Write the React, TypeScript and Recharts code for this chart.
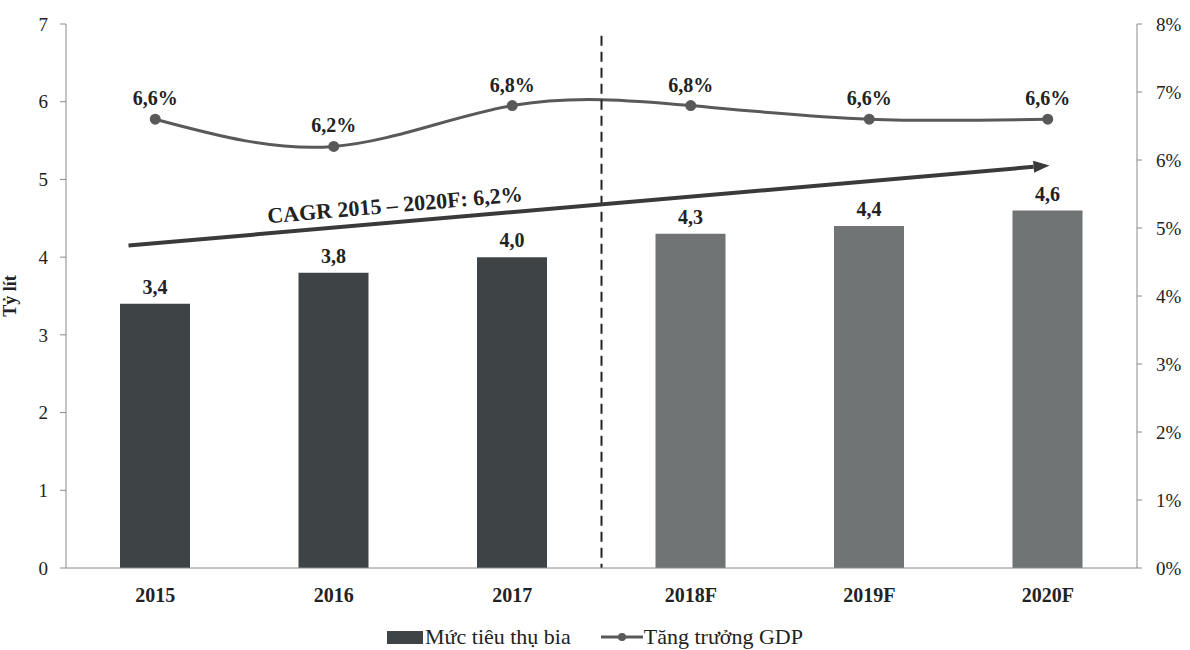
import { Bar, Cell, ComposedChart, LabelList, Line, ReferenceLine, XAxis, YAxis } from 'recharts';

const years = ['2015', '2016', '2017', '2018F', '2019F', '2020F'];
const beer = [3.4, 3.8, 4.0, 4.3, 4.4, 4.6];
const gdp = [6.6, 6.2, 6.8, 6.8, 6.6, 6.6];
const leftTicks = [0, 1, 2, 3, 4, 5, 6, 7];
const rightTicks = [0, 1, 2, 3, 4, 5, 6, 7, 8];

// CAGR arrow ends, in (band position, litres) units
const cagrStart = { x: 0.35, y: 4.15 };
const cagrEnd = { x: 5.51, y: 5.18 };
const cagrText = 'CAGR 2015 – 2020F: 6,2%';

const FONT = '"Liberation Serif", "Times New Roman", serif';
const ACTUAL_COLOR = '#3e4446';
const FORECAST_COLOR = '#707474';
const LINE_COLOR = '#595959';
const AXIS_COLOR = '#8a8a8a';

// pos = centre of each band on a 0..6 scale, used by the annotation axis
const data = years.map((y, i) => ({ year: y, beer: beer[i], gdp: gdp[i], pos: i + 0.5 }));

const comma = (v: number) => v.toFixed(1).replace('.', ',');

function CagrArrow(props: any) {
  const { x1, y1, x2, y2 } = props;
  const ang = Math.atan2(y2 - y1, x2 - x1);
  const deg = (ang * 180) / Math.PI;
  const head = 16;
  const hx = x2 - head * Math.cos(ang);
  const hy = y2 - head * Math.sin(ang);
  const px = Math.sin(ang) * 6;
  const py = -Math.cos(ang) * 6;
  const tx = x1 + (x2 - x1) * 0.29;
  const ty = y1 + (y2 - y1) * 0.29 - 10;
  return (
    <g>
      <line x1={x1} y1={y1} x2={hx} y2={hy} stroke="#3a3a3a" strokeWidth={4} />
      <polygon points={`${x2},${y2} ${hx + px},${hy + py} ${hx - px},${hy - py}`} fill="#3a3a3a" />
      <text
        x={tx}
        y={ty}
        textAnchor="middle"
        transform={`rotate(${deg} ${tx} ${ty})`}
        style={{ fontFamily: FONT, fontWeight: 700, fontSize: 22, fill: '#222' }}
      >
        {cagrText}
      </text>
    </g>
  );
}

export default function App() {
  return (
    <div style={{ position: 'absolute', left: 0, top: 0, width: 1190, height: 650, background: '#fff', fontFamily: FONT }}>
      <ComposedChart width={1190} height={620} data={data} margin={{ top: 24, right: 0, left: 0, bottom: 12 }}>
        <XAxis
          dataKey="year"
          stroke={AXIS_COLOR}
          tickLine={false}
          tickSize={0}
          tickMargin={20}
          height={40}
          tick={{ fontFamily: FONT, fontWeight: 700, fontSize: 20, fill: '#222' }}
        />
        <XAxis xAxisId="pos" dataKey="pos" type="number" domain={[0, 6]} allowDataOverflow hide />
        <YAxis
          yAxisId="left"
          domain={[0, 7]}
          ticks={leftTicks}
          width={66}
          stroke={AXIS_COLOR}
          tickSize={6}
          tickMargin={12}
          tick={{ fontFamily: FONT, fontSize: 19, fill: '#222' }}
          label={{
            value: 'Tỷ lít',
            angle: -90,
            position: 'insideLeft',
            offset: 10,
            style: { fontFamily: FONT, fontWeight: 700, fontSize: 18, fill: '#222', textAnchor: 'middle' },
          }}
        />
        <YAxis
          yAxisId="right"
          orientation="right"
          domain={[0, 8]}
          ticks={rightTicks}
          width={53}
          stroke={AXIS_COLOR}
          tickSize={5}
          tickMargin={14}
          tickFormatter={(v: number) => `${v}%`}
          tick={{ fontFamily: FONT, fontSize: 19, fill: '#222' }}
        />
        <Bar yAxisId="left" dataKey="beer" barSize={70} isAnimationActive={false}>
          {data.map((d) => (
            <Cell key={d.year} fill={d.year.endsWith('F') ? FORECAST_COLOR : ACTUAL_COLOR} />
          ))}
          <LabelList
            dataKey="beer"
            position="top"
            offset={10}
            formatter={(v: any) => comma(Number(v))}
            style={{ fontFamily: FONT, fontWeight: 700, fontSize: 20, fill: '#222' }}
          />
        </Bar>
        <Line
          yAxisId="right"
          dataKey="gdp"
          type="natural"
          stroke={LINE_COLOR}
          strokeWidth={3}
          dot={{ r: 4, fill: LINE_COLOR, stroke: LINE_COLOR }}
          isAnimationActive={false}
        >
          <LabelList
            dataKey="gdp"
            position="top"
            offset={14}
            formatter={(v: any) => `${comma(Number(v))}%`}
            style={{ fontFamily: FONT, fontWeight: 700, fontSize: 20, fill: '#222' }}
          />
        </Line>
        <ReferenceLine
          xAxisId="pos"
          yAxisId="left"
          segment={[
            { x: 3, y: 6.85 },
            { x: 3, y: 0 },
          ]}
          stroke="#222"
          strokeWidth={2}
          strokeDasharray="10 6"
        />
        <ReferenceLine
          xAxisId="pos"
          yAxisId="left"
          segment={[cagrStart, cagrEnd]}
          ifOverflow="visible"
          shape={(p: any) => <CagrArrow {...p} />}
        />
      </ComposedChart>
      <div
        style={{
          position: 'absolute',
          top: 624,
          left: 0,
          width: 1190,
          display: 'flex',
          justifyContent: 'center',
          alignItems: 'center',
          fontSize: 22,
          color: '#222',
          gap: 30,
        }}
      >
        <span style={{ display: 'flex', alignItems: 'center' }}>
          <span style={{ display: 'inline-block', width: 36, height: 13, background: ACTUAL_COLOR, marginRight: 2 }} />
          Mức tiêu thụ bia
        </span>
        <span style={{ display: 'flex', alignItems: 'center' }}>
          <svg width={42} height={12} style={{ marginRight: 1 }}>
            <line x1={0} y1={6} x2={42} y2={6} stroke={LINE_COLOR} strokeWidth={3} />
            <circle cx={21} cy={6} r={4} fill={LINE_COLOR} />
          </svg>
          Tăng trưởng GDP
        </span>
      </div>
    </div>
  );
}
